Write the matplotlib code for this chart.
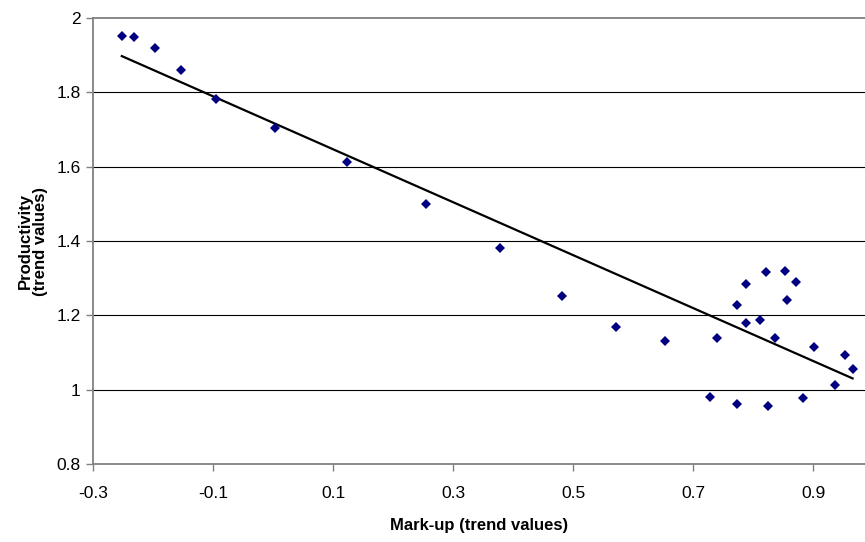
import matplotlib.pyplot as plt
import numpy as np

plt.rcParams['font.family'] = ['Liberation Sans', 'DejaVu Sans']

# mark-up (trend values)
markup = [-0.252, -0.231, -0.197, -0.153, -0.095, 0.004, 0.124, 0.255, 0.379, 0.482,
          0.571, 0.654, 0.728, 0.740, 0.773, 0.773, 0.789, 0.788, 0.812, 0.821,
          0.825, 0.837, 0.853, 0.857, 0.872, 0.883, 0.901, 0.937, 0.953, 0.966]
# productivity (trend values)
productivity = [1.952, 1.949, 1.920, 1.861, 1.781, 1.703, 1.613, 1.500, 1.380, 1.252,
                1.169, 1.132, 0.979, 1.140, 1.228, 0.961, 1.284, 1.180, 1.188, 1.317,
                0.957, 1.140, 1.320, 1.240, 1.289, 0.977, 1.116, 1.013, 1.092, 1.056]

xticks = [-0.3, -0.1, 0.1, 0.3, 0.5, 0.7, 0.9]
yticks = [0.8, 1.0, 1.2, 1.4, 1.6, 1.8, 2.0]

x = np.array(markup)
y = np.array(productivity)
b, a = np.polyfit(x, y, 1)  # linear trend

fig = plt.figure(figsize=(8.65, 5.42), dpi=100)
ax = fig.add_axes([93/865, 78/542, 772/865, 446/542])

for v in yticks[1:-1]:
    ax.axhline(v, color='black', lw=0.8, zorder=1)

xl = np.array([x.min(), x.max()])
ax.plot(xl, a + b*xl, color='black', lw=1.6, zorder=2)
ax.plot(x, y, 'D', color='#000080', markersize=4.6, markeredgewidth=0, zorder=3)

ax.set_xlim(-0.3, -0.3 + 772/600)
ax.set_ylim(0.8, 2.0)
ax.set_xticks(xticks)
ax.set_xticklabels(['-0.3', '-0.1', '0.1', '0.3', '0.5', '0.7', '0.9'])
ax.set_yticks(yticks)
ax.set_yticklabels(['0.8', '1', '1.2', '1.4', '1.6', '1.8', '2'])
ax.tick_params(labelsize=12.5, length=5, width=1, color='#808080', direction='out', pad=4)
ax.tick_params(axis='x', pad=11)

for s in ['left', 'bottom', 'top']:
    ax.spines[s].set_color('#808080')
    ax.spines[s].set_linewidth(1.3)
ax.spines['right'].set_visible(False)

ax.set_xlabel('Mark-up (trend values)', fontsize=12, fontweight='bold', labelpad=12)
ax.set_ylabel('Productivity\n(trend values)', fontsize=12, fontweight='bold', labelpad=6,
              linespacing=1.0)

fig.savefig('out.png', dpi=100)
